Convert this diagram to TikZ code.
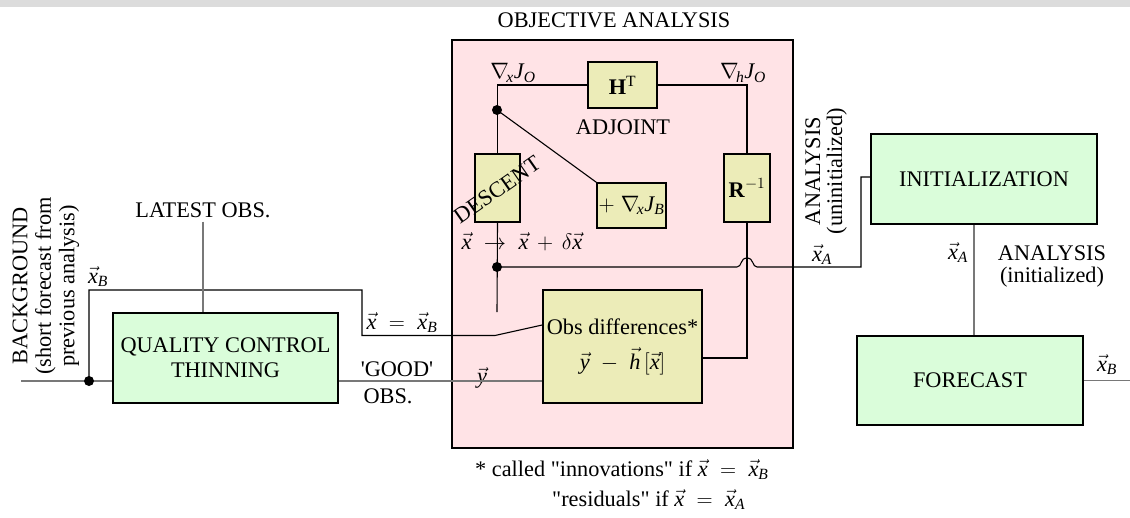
\documentclass[tikz,border=0pt]{standalone}
\usepackage{fix-cm}
\usepackage{amsmath}
\usepackage{fontspec}
\setmainfont{Liberation Serif}
\usetikzlibrary{calc}
\definecolor{pinkbg}{RGB}{255,227,230}
\definecolor{greenbg}{RGB}{218,253,218}
\definecolor{yellowbg}{RGB}{236,236,184}
\definecolor{bandgrey}{RGB}{220,220,220}
\definecolor{linegrey}{RGB}{120,120,120}
\newcommand{\vx}{\vec{\textit{x}}}
\begin{document}
\begin{tikzpicture}[x=1pt,y=-1pt,
  every node/.style={font=\fontsize{22.3}{25}\selectfont, inner sep=0pt},
  boxbase/.style={draw=black, line width=1.6pt, align=center},
  greenbox/.style={boxbase, fill=greenbg},
  yellowbox/.style={boxbase, fill=yellowbg},
  bl/.style={draw=black, line width=1.1pt},
  gl/.style={draw=linegrey, line width=1.4pt},
  dot/.style={fill=black}]
\useasboundingbox (0,0) rectangle (1130,517);
\fill[bandgrey] (0,0) rectangle (1130,7);

% objective analysis frame
\node[boxbase, fill=pinkbg, minimum width=341pt, minimum height=408pt] (oa) at (622.5,244) {};
\node (title) at (614,20) {OBJECTIVE ANALYSIS};

% boxes inside
\node[yellowbox, minimum width=69pt, minimum height=46pt] (ht) at (622.5,85) {\textbf{H}$^{\text{T}}$};
\node[yellowbox, minimum width=45pt, minimum height=68pt] (desc) at (497.5,188) {};
\node[yellowbox, minimum width=69pt, minimum height=45pt] (djb) at (631.5,205.5) {$+\;\nabla_{\!\textit{x}}\textit{J}_{\textit{B}}$};
\node[yellowbox, minimum width=46pt, minimum height=68pt] (rinv) at (747,188) {\textbf{R}$^{-1}$};
\node[yellowbox, minimum width=159pt, minimum height=113pt] (od) at (622.5,346.5) {Obs differences*\\[10pt]$\vec{\textit{y}}\;-\;\vec{\textit{h}}\,[\vx]$};

% outer boxes
\node[greenbox, minimum width=225pt, minimum height=90pt] (qc) at (225.5,358) {QUALITY CONTROL\\THINNING};
\node[greenbox, minimum width=226pt, minimum height=90pt] (init) at (984,179) {INITIALIZATION};
\node[greenbox, minimum width=226pt, minimum height=89pt] (fc) at (970,380.5) {FORECAST};

% labels
\node (gxjo) at (513,73) {$\nabla_{\!\textit{x}}\textit{J}_{\textit{O}}$};
\node (ghjo) at (743,73) {$\nabla_{\!\textit{h}}\textit{J}_{\textit{O}}$};
\node (adj) at (623,127) {ADJOINT};
\node[rotate=35] (desclbl) at (497,190) {DESCENT};
\node (upd) at (522,242) {$\vx\;\rightarrow\;\vx\,+\,\delta\vx$};
\node[rotate=90, align=center, font=\fontsize{22.3}{23.5}\selectfont] (bglbl) at (46,286) {BACKGROUND\\(short forecast from\\previous analysis)};
\node (xblbl) at (98,277) {$\vx_{\textit{B}}$};
\node (lo) at (203,210) {LATEST OBS.};
\node (xeq) at (402,323) {$\vx\;=\;\vx_{\textit{B}}$};
\node (good) at (397,369) {\textquotesingle GOOD\textquotesingle};
\node (obs) at (388,396) {OBS.};
\node (ylbl) at (482,378) {$\vec{\textit{y}}$};
\node[rotate=90, align=center, font=\fontsize{22.3}{22}\selectfont] (anu) at (826,171) {ANALYSIS\\(uninitialized)};
\node (xalbl1) at (822,255) {$\vx_{\textit{A}}$};
\node (xalbl2) at (958,253) {$\vx_{\textit{A}}$};
\node[align=center, font=\fontsize{22.3}{22}\selectfont] (ani) at (1052,266) {ANALYSIS\\(initialized)};
\node (xblbl2) at (1107,365) {$\vx_{\textit{B}}$};
\node[anchor=west] (fn1) at (475,470) {* called \textquotedbl innovations\textquotedbl{} if $\vx\;=\;\vx_{\textit{B}}$};
\node[anchor=west] (fn2) at (552,500) {\textquotedbl residuals\textquotedbl{} if $\vx\;=\;\vx_{\textit{A}}$};

% coordinates
\coordinate (d1) at (497,110);
\coordinate (d2) at (497,267);
\coordinate (d0) at (89,381);
\coordinate (descend) at (497,312);
\coordinate (bgin) at (21,381);
\coordinate (fcout) at (1130,380.5);

% connectors inside
\draw[bl] (desc.north) |- (ht.west);
\draw[bl] (ht.east) -| (rinv.north);
\draw[bl] (d1) -- (djb.north west);
\draw[bl] (rinv.south) |- ([yshift=-11.5pt]od.east);
\draw[bl] (desc.south) -- (descend);
\draw[bl] (d2) -- (737,267) .. controls (742,267) and (740,258) .. (747,258)
  .. controls (754,258) and (752,267) .. (757,267) -- (861,267) |- ([yshift=2pt]init.west);
\fill[dot] (d1) circle (5pt);
\fill[dot] (d2) circle (5pt);

% left side
\draw[gl] (bgin) -- ([yshift=-23pt]qc.west);
\draw[bl] (d0) |- (362,290) |- (495,335.5) -- ([yshift=21.5pt]od.west);
\fill[dot] (d0) circle (5pt);
\draw[gl] ([yshift=-4pt]lo.south) -- (lo.south |- qc.north);
\draw[gl] ([yshift=-23pt]qc.east) -- ([yshift=-34.5pt]od.west);

% right side
\draw[gl] ([xshift=-10pt]init.south) -- ([xshift=-10pt]init.south |- fc.north);
\draw[gl] (fc.east) -- (fcout);
\end{tikzpicture}
\end{document}
